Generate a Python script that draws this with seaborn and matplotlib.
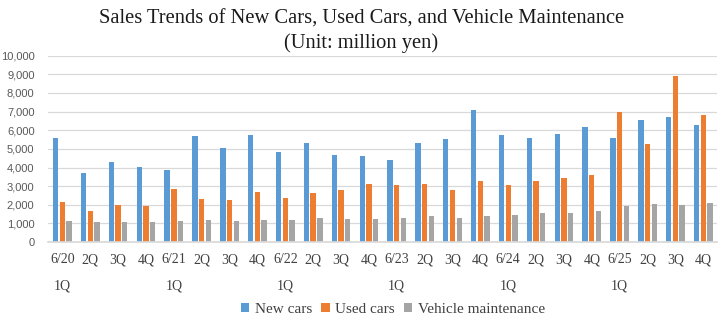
import matplotlib
matplotlib.use("Agg")
import matplotlib.pyplot as plt
import seaborn as sns
import pandas as pd

quarters = ["6/20\n1Q", "2Q", "3Q", "4Q", "6/21\n1Q", "2Q", "3Q", "4Q",
            "6/22\n1Q", "2Q", "3Q", "4Q", "6/23\n1Q", "2Q", "3Q", "4Q",
            "6/24\n1Q", "2Q", "3Q", "4Q", "6/25\n1Q", "2Q", "3Q", "4Q"]
new_cars = [5590, 3710, 4300, 4030, 3870, 5700, 5050, 5750,
            4840, 5320, 4680, 4620, 4410, 5320, 5540, 7100,
            5770, 5560, 5820, 6200, 5560, 6560, 6720, 6290]
used_cars = [2150, 1670, 1990, 1940, 2850, 2310, 2260, 2690,
             2370, 2630, 2800, 3120, 3060, 3120, 2800, 3280,
             3080, 3300, 3460, 3620, 6990, 5270, 8920, 6830]
maintenance = [1130, 1080, 1080, 1080, 1130, 1180, 1130, 1180,
               1180, 1290, 1240, 1240, 1290, 1400, 1290, 1400,
               1470, 1580, 1580, 1680, 1950, 2060, 2000, 2110]
series_names = ["New cars", "Used cars", "Vehicle maintenance"]
colors = ["#5B9BD5", "#ED7D31", "#A5A5A5"]

idx = list(range(len(quarters)))
df = pd.DataFrame({
    "idx": idx * 3,
    "value": new_cars + used_cars + maintenance,
    "series": [series_names[0]] * 24 + [series_names[1]] * 24 + [series_names[2]] * 24,
})

sns.set_theme(style="white")
plt.rcParams["font.family"] = ["Liberation Serif", "DejaVu Serif"]

fig, ax = plt.subplots(figsize=(7.23, 3.24), dpi=100)
fig.subplots_adjust(left=0.067, right=0.992, top=0.828, bottom=0.253)

sns.barplot(data=df, x="idx", y="value", hue="series", palette=colors,
            width=0.72, gap=0.2, saturation=1, linewidth=0, ax=ax, legend=True)

ax.set_ylim(0, 10000)
ax.set_yticks(range(0, 10001, 1000))
ax.set_yticklabels([f"{v:,}" for v in range(0, 10001, 1000)],
                   fontsize=8, color="#595959", family="Liberation Sans")
ax.set_xticks(idx)
ax.set_xticklabels(quarters, fontsize=10, color="#404040", linespacing=2.3,
                   va="top", ha="center", multialignment="center")
ax.set_xlim(-0.5, len(quarters) - 0.5)
ax.set_xlabel("")
ax.set_ylabel("")
ax.yaxis.grid(True, color="#D9D9D9", linewidth=0.9)
ax.set_axisbelow(True)
for s in ["top", "right", "left"]:
    ax.spines[s].set_visible(False)
ax.spines["bottom"].set_color("#D9D9D9")
ax.tick_params(axis="y", length=0, pad=10)
ax.tick_params(axis="x", length=0, pad=8)

fig.suptitle("Sales Trends of New Cars, Used Cars, and Vehicle Maintenance\n(Unit: million yen)",
             fontsize=14.8, y=0.97, color="#1a1a1a", linespacing=1.32)

leg = ax.legend(loc="lower center", bbox_to_anchor=(0.515, -0.47), ncol=3, frameon=False,
                fontsize=11, handlelength=0.55, handleheight=0.55, handletextpad=0.35,
                columnspacing=0.6)
for t in leg.get_texts():
    t.set_color("#404040")

fig.savefig("out.png", dpi=100)
